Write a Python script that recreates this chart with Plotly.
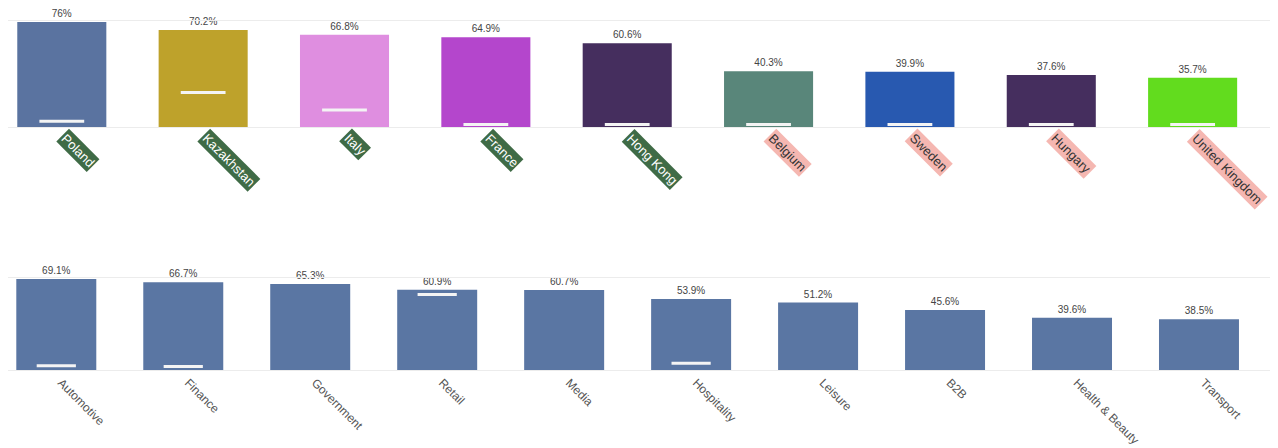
import plotly.graph_objects as go

# ---- data ----
countries = ["Poland", "Kazakhstan", "Italy", "France", "Hong Kong",
             "Belgium", "Sweden", "Hungary", "United Kingdom"]
country_values = [76, 70.2, 66.8, 64.9, 60.6, 40.3, 39.9, 37.6, 35.7]
country_markers = [4.1, 24.9, 12.3, 1.8, 1.8, 1.8, 1.8, 1.8, 1.8]
country_colors = ["#5a73a0", "#bea22b", "#df8ee0", "#b446cc", "#452e5e",
                  "#59867a", "#2859b0", "#452e5e", "#62dc1e"]
country_label_bg = ["#3f6b46"] * 5 + ["#f5b7b1"] * 4
country_label_fg = ["#ffffff"] * 5 + ["#333333"] * 4

sectors = ["Automotive", "Finance", "Government", "Retail", "Media",
           "Hospitality", "Leisure", "B2B", "Health & Beauty", "Transport"]
sector_values = [69.1, 66.7, 65.3, 60.9, 60.7, 53.9, 51.2, 45.6, 39.6, 38.5]
sector_markers = [3.3, 2.7, None, 57.3, None, 5.1, None, None, None, None]
sector_color = "#5a76a3"

FONT = "Liberation Sans, Arial, sans-serif"
W, H = 1270, 440   # page body has an 8px margin

fig = go.Figure()

# top chart
fig.add_trace(go.Bar(
    x=countries, y=country_values, marker_color=country_colors,
    marker_line_width=0,
    text=[f"{v:g}%" for v in country_values], textposition="outside",
    textfont=dict(size=10, color="#444444", family=FONT), cliponaxis=False,
    xaxis="x", yaxis="y", showlegend=False, hoverinfo="x+y"))
fig.add_trace(go.Scatter(
    x=countries, y=country_markers, mode="markers",
    marker=dict(symbol="line-ew", size=32, line=dict(width=3, color="#f4f4f4")),
    xaxis="x", yaxis="y", showlegend=False, hoverinfo="skip"))

# bottom chart
fig.add_trace(go.Bar(
    x=sectors, y=sector_values, marker_color=sector_color,
    marker_line_width=0,
    text=[f"{v:g}%" for v in sector_values], textposition="outside",
    textfont=dict(size=10, color="#444444", family=FONT), cliponaxis=False,
    xaxis="x2", yaxis="y2", showlegend=False, hoverinfo="x+y"))
fig.add_trace(go.Scatter(
    x=sectors, y=sector_markers, mode="markers",
    marker=dict(symbol="line-ew", size=28, line=dict(width=3, color="#f4f4f4")),
    xaxis="x2", yaxis="y2", showlegend=False, hoverinfo="skip"))

top_top, top_base = 13, 119
bot_top, bot_base = 270, 362
annotations = []
for c, bg, fg in zip(countries, country_label_bg, country_label_fg):
    annotations.append(dict(
        x=c, xref="x", y=1 - top_base / H, yref="paper",
        text=c, showarrow=False, textangle=45,
        xanchor="left", yanchor="top", xshift=-6, yshift=-1,
        bgcolor=bg, borderpad=1,
        font=dict(size=13, color=fg, family=FONT)))

fig.update_layout(
    width=W, height=H,
    margin=dict(l=0, r=0, t=0, b=0),
    paper_bgcolor="white", plot_bgcolor="white",
    bargap=0.37,
    annotations=annotations,
    xaxis=dict(domain=[0, 1], range=[-0.3806, 8.604], showgrid=False,
               showline=True, mirror=True, linecolor="#ececec", linewidth=1,
               showticklabels=False, ticks="", anchor="y"),
    yaxis=dict(domain=[1 - top_base / H, 1 - top_top / H], range=[0, 76.7],
               showgrid=False, zeroline=False, showticklabels=False,
               anchor="x"),
    xaxis2=dict(domain=[0, 1265 / W], range=[-0.3804, 9.583], showgrid=False,
                showline=True, mirror=True, linecolor="#ececec", linewidth=1,
                tickangle=45, ticks="", ticklabelshift=5,
                tickfont=dict(size=12, color="#555555", family=FONT),
                anchor="y2"),
    yaxis2=dict(domain=[1 - bot_base / H, 1 - bot_top / H], range=[0, 69.86],
                showgrid=False, zeroline=False, showticklabels=False,
                anchor="x2"),
)

fig.write_html("out.html")
